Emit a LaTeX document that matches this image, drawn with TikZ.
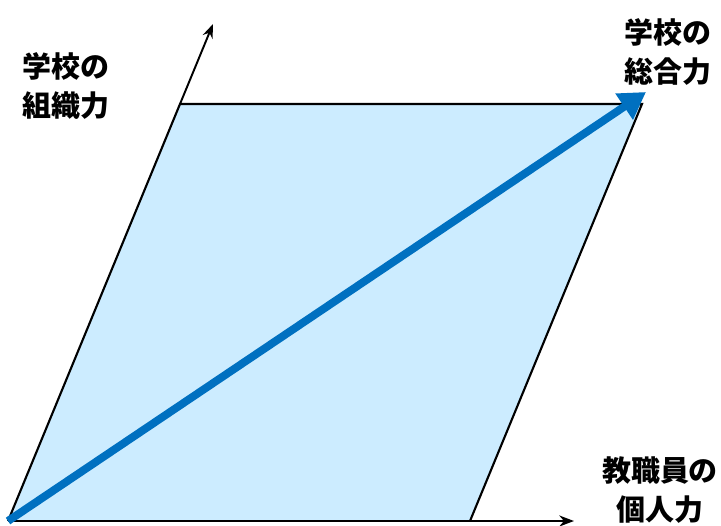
\documentclass[tikz,border=0pt]{standalone}
\usepackage{fontspec}
\newfontfamily\jafont{Noto Sans CJK JP}
\usepackage{tikz}
\usetikzlibrary{arrows.meta,calc}

\definecolor{areablue}{HTML}{CCECFF}
\definecolor{sumblue}{HTML}{0070C0}

\begin{document}
\begin{tikzpicture}[>=Stealth,x=0.02cm,y=-0.02cm,
    lbl/.style={align=center,font=\jafont\bfseries\fontsize{16.5}{22}\selectfont}]
  \useasboundingbox (0,0) rectangle (721,525);
  \coordinate (O) at (8,521);
  \coordinate (A) at (470,521);
  \coordinate (B) at (180,104);
  \coordinate (C) at (642,104);
  \coordinate (xend) at (574,521);
  \coordinate (yend) at (213,24);
  \coordinate (sum) at (646,92);
  \fill[areablue] (O) -- (A) -- (C) -- (B) -- cycle;
  \draw[line width=1.2pt] (A) -- (C) -- (B) -- (O);
  \draw[line width=1.2pt,->] (O) -- (xend);
  \draw[line width=1.1pt,->] (B) -- (yend);
  \draw[sumblue,line width=4.5pt,-{Triangle[length=15pt,width=17pt]}] (O) -- (sum);
  \node[lbl] (total) at (668,52) {学校の\\総合力};
  \node[lbl] (org) at (66,86) {学校の\\組織力};
  \node[lbl] (indiv) at (660,490) {教職員の\\個人力};
\end{tikzpicture}
\end{document}
